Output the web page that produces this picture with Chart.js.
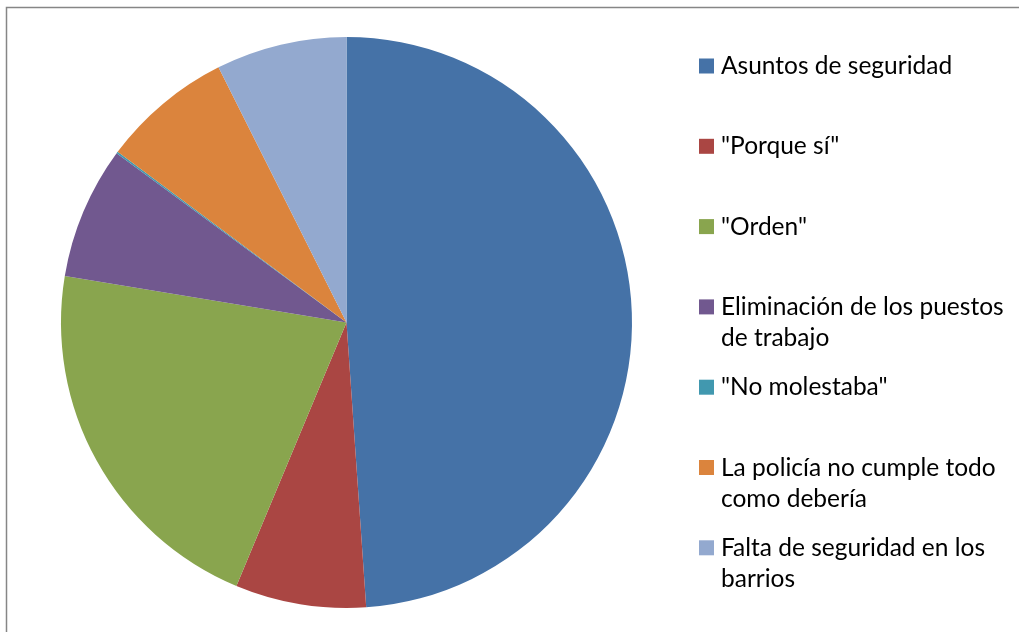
<!DOCTYPE html>
<html>
<head>
<meta charset="utf-8">
<script src="https://cdn.jsdelivr.net/npm/chart.js@4.4.1/dist/chart.umd.min.js"></script>
<style>
  html, body { margin: 0; padding: 0; background: #fff; }
  #wrap { position: relative; width: 1019px; height: 632px; }
</style>
</head>
<body>
<div id="wrap"><canvas id="motivosChart" width="1019" height="632"></canvas></div>
<script>
// categorías (las largas van partidas en dos líneas como en la leyenda)
var categorias = [
  'Asuntos de seguridad',
  '"Porque sí"',
  '"Orden"',
  ['Eliminación de los puestos', 'de trabajo'],
  '"No molestaba"',
  ['La policía no cumple todo', 'como debería'],
  ['Falta de seguridad en los', 'barrios']
];
// porcentaje de respuestas
var porcentajes = [48.9, 7.4, 21.3, 7.5, 0.1, 7.4, 7.4];
var colores = ['#4572A7', '#AA4643', '#89A54E', '#71588F', '#4198AF', '#DB843D', '#93A9CF'];

// marco gris y leyenda a la derecha
var marcoYLeyenda = {
  id: 'marcoYLeyenda',
  beforeDraw: function(chart) {
    var ctx = chart.ctx;
    ctx.save();
    ctx.fillStyle = '#fff';
    ctx.fillRect(0, 0, chart.width, chart.height);
    ctx.strokeStyle = '#868686';
    ctx.lineWidth = 1.5;
    ctx.beginPath();
    ctx.moveTo(6.5, chart.height + 2);
    ctx.lineTo(6.5, 7.5);
    ctx.lineTo(chart.width + 2, 7.5);
    ctx.stroke();
    ctx.restore();
  },
  afterDraw: function(chart) {
    var ctx = chart.ctx;
    var labels = chart.data.labels;
    var bg = chart.data.datasets[0].backgroundColor;
    ctx.save();
    ctx.font = '24.5px Lato, "Open Sans", sans-serif';
    ctx.fillStyle = '#000';
    ctx.textBaseline = 'alphabetic';
    for (var i = 0; i < labels.length; i++) {
      var cy = 66 + i * 80.3;
      ctx.fillStyle = bg[i];
      ctx.fillRect(699, cy - 7.5, 15, 15);
      ctx.fillStyle = '#000';
      var lineas = Array.isArray(labels[i]) ? labels[i] : [labels[i]];
      for (var j = 0; j < lineas.length; j++) {
        ctx.fillText(lineas[j], 721, cy + 8 + j * 31);
      }
    }
    ctx.restore();
  }
};

var ctx = document.getElementById('motivosChart').getContext('2d');
new Chart(ctx, {
  type: 'pie',
  data: {
    labels: categorias,
    datasets: [{
      data: porcentajes,
      backgroundColor: colores,
      borderWidth: 0
    }]
  },
  options: {
    responsive: false,
    animation: false,
    layout: { padding: { left: 61, right: 387, top: 37, bottom: 24 } },
    plugins: {
      legend: { display: false },
      tooltip: { enabled: false }
    }
  },
  plugins: [marcoYLeyenda]
});
</script>
</body>
</html>
